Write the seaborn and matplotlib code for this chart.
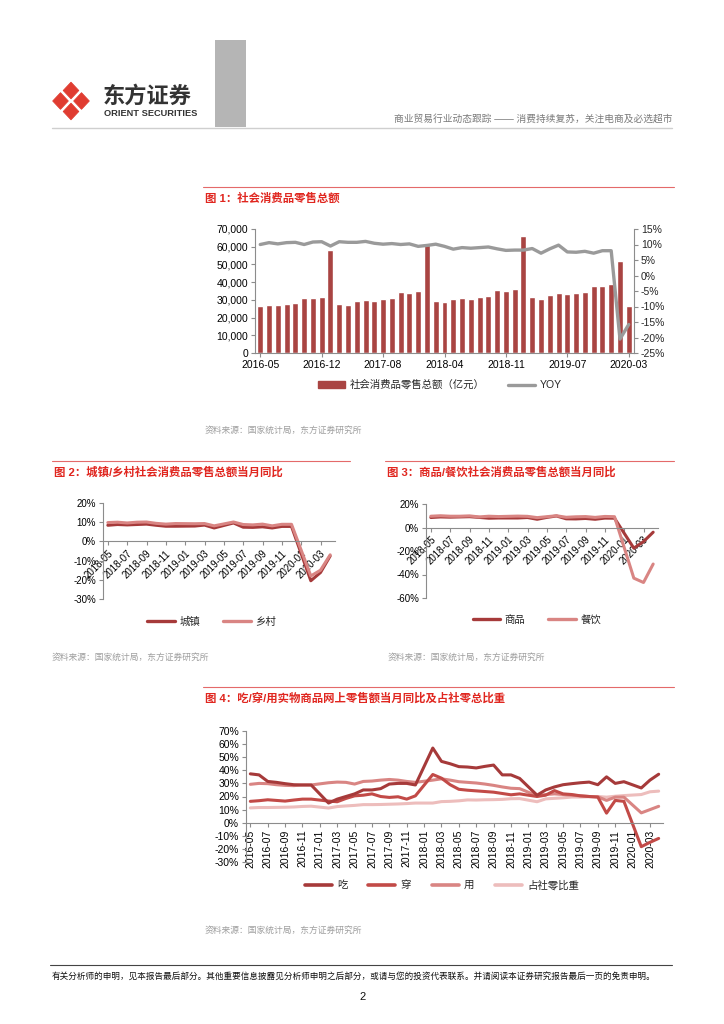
import numpy as np
import pandas as pd
import seaborn as sns
import matplotlib.pyplot as plt
from matplotlib.patches import Polygon, Rectangle, Patch
from matplotlib.lines import Line2D
from matplotlib.ticker import FuncFormatter

sns.set_theme(style="white")
plt.rcParams["font.family"] = ["Liberation Sans", "Noto Sans CJK SC", "DejaVu Sans"]
plt.rcParams["axes.unicode_minus"] = False

## DATA

# chart 1: monthly retail sales (Jan merged into Feb)
months1 = [p.strftime("%Y-%m") for p in pd.period_range("2016-05", "2020-03", freq="M") if p.month != 1]
sales = [26610, 26857, 26827, 27539, 28006, 31119, 30959, 31757,
         58062, 27864, 27278, 29459, 29808, 29610, 30330, 31000, 34240, 34108, 34734,
         61082, 29194, 28542, 30359, 30842, 30734, 31542, 32005, 35534, 35260, 35893,
         66064, 31726, 30586, 32956, 33878, 33073, 33896, 34495, 38104, 38094, 38777,
         52130, 26450]
yoy = [10.0, 10.6, 10.2, 10.6, 10.7, 10.0, 10.8, 10.9,
       9.5, 10.9, 10.7, 10.7, 11.0, 10.4, 10.1, 10.3, 10.0, 10.2, 9.4,
       9.7, 10.1, 9.4, 8.5, 9.0, 8.8, 9.0, 9.2, 8.6, 8.1, 8.2,
       8.2, 8.7, 7.2, 8.6, 9.8, 7.6, 7.5, 7.8, 7.2, 8.0, 8.0,
       -20.5, -15.8]

# chart 2 / 3: 2018-05 .. 2020-04, January not published
months2 = [p.strftime("%Y-%m") for p in pd.period_range("2018-05", "2020-04", freq="M")]
urban = [8.4, 8.8, 8.6, 8.8, 9.0, 8.4, 7.9, 7.9, np.nan, 8.0, 8.5, 7.0,
         8.3, 9.6, 7.4, 7.3, 7.6, 7.0, 7.8, 7.8, np.nan, -20.5, -16.2, -7.6]
rural = [9.8, 10.0, 9.6, 10.0, 10.1, 9.4, 9.0, 9.3, np.nan, 9.2, 9.3, 8.1,
         9.1, 10.1, 8.8, 8.6, 9.0, 8.1, 8.9, 8.9, np.nan, -18.0, -15.0, -7.0]
goods = [8.5, 9.0, 8.8, 9.0, 9.2, 8.6, 7.9, 8.1, np.nan, 8.1, 8.5, 7.0,
         8.6, 9.8, 7.4, 7.3, 7.7, 7.0, 8.0, 7.9, np.nan, -17.6, -12.0, -4.0]
catering = [9.6, 10.0, 9.6, 9.6, 9.9, 9.0, 9.6, 9.3, np.nan, 9.7, 9.5, 8.4,
            9.2, 10.0, 8.7, 9.1, 9.3, 8.6, 9.4, 9.2, np.nan, -43.1, -46.8, -31.1]

# chart 4: 2016-05 .. 2020-04
months4 = [p.strftime("%Y-%m") for p in pd.period_range("2016-05", "2020-04", freq="M")]
eat = [37.3, 36.5, 31.5, 30.8, 29.8, 29.0, 28.8, 28.8,
       np.nan, 15.0, 18.0, 20.0, 22.0, 25.0, 25.0, 26.0, 29.5, 30.0, 30.0, 28.8,
       np.nan, 57.0, 46.8, 45.0, 42.8, 42.5, 41.8, 43.0, 44.0, 36.5, 36.5, 33.8,
       np.nan, 21.0, 25.0, 27.3, 29.0, 29.8, 30.5, 31.0, 29.0, 35.0, 30.0, 31.3,
       np.nan, 26.5, 32.5, 37.0]
wear = [16.3, 16.8, 17.5, 17.0, 16.5, 17.3, 18.0, 18.0,
        np.nan, 16.5, 16.0, 18.5, 20.5, 21.0, 22.0, 20.0, 19.3, 19.8, 18.0, 20.5,
        np.nan, 36.8, 34.0, 29.0, 25.5, 24.8, 24.3, 23.8, 23.3, 22.3, 21.3, 22.0,
        np.nan, 20.0, 21.0, 24.5, 22.0, 21.5, 20.5, 20.0, 19.5, 7.3, 17.0, 16.3,
        np.nan, -18.3, -15.0, -12.0]
use = [29.3, 30.0, 29.8, 29.0, 28.5, 28.3, 28.8, 28.8,
       np.nan, 30.5, 31.0, 30.8, 29.5, 31.5, 31.8, 32.5, 33.0, 32.5, 31.5, 30.8,
       np.nan, 32.5, 33.5, 32.5, 31.3, 30.8, 30.3, 29.5, 28.5, 27.3, 26.3, 26.0,
       np.nan, 20.5, 21.5, 22.0, 21.5, 21.0, 20.5, 20.0, 19.8, 17.0, 19.5, 19.5,
       np.nan, 7.5, 10.0, 12.5]
share = [11.3, 11.6, 11.6, 11.7, 11.8, 12.0, 12.4, 12.6,
         np.nan, 11.2, 12.3, 12.8, 13.2, 13.8, 13.8, 13.9, 14.1, 14.3, 14.6, 15.0,
         np.nan, 15.0, 16.1, 16.3, 16.7, 17.4, 17.3, 17.5, 17.6, 17.8, 18.3, 18.4,
         np.nan, 16.0, 18.2, 18.6, 19.0, 19.6, 19.6, 19.8, 20.0, 19.5, 20.2, 20.7,
         np.nan, 21.5, 23.6, 24.1]

BAR = "#A94442"
GRAY = "#9A9A9A"
C_DARK = "#A63A3A"
C_MID = "#C24A47"
C_LIGHT = "#D98583"
C_PALE = "#EDBDBC"
RED = "#E0261F"
SPINE = "#8C8C8C"

W, H = 724, 1024
fig = plt.figure(figsize=(W / 100, H / 100), dpi=100)

bg = fig.add_axes([0, 0, 1, 1])
bg.set_xlim(0, W)
bg.set_ylim(H, 0)
bg.axis("off")


def box(x0, y0, x1, y1):
    return fig.add_axes([x0 / W, 1 - y1 / H, (x1 - x0) / W, (y1 - y0) / H])


def style_ax(ax, size=7.5):
    for s in ["top", "right"]:
        ax.spines[s].set_visible(False)
    for s in ["left", "bottom"]:
        ax.spines[s].set_color(SPINE)
        ax.spines[s].set_linewidth(0.8)
    ax.tick_params(axis="both", bottom=True, left=True, direction="out", length=3,
                   width=0.8, color=SPINE, labelsize=size, pad=2, labelcolor="black")
    ax.set_xlabel("")
    ax.set_ylabel("")
    ax.set_facecolor("none")


def legend(ax, handles, labels, x, y, size=7.5, spacing=2.2):
    ax.legend(handles, labels, loc="center", bbox_to_anchor=(x / W, 1 - y / H),
              bbox_transform=fig.transFigure, ncol=len(labels), frameon=False,
              fontsize=size, handlelength=2.6, handletextpad=0.5, columnspacing=spacing)


pct = FuncFormatter(lambda v, p: f"{v:.0f}%")

## PAGE HEADER

rx, ry = 7.8, 8.3
for cx, cy in [(71, 90.5), (71, 111.5), (60.5, 101), (81.5, 101)]:
    bg.add_patch(Polygon([(cx, cy - ry), (cx + rx, cy), (cx, cy + ry), (cx - rx, cy)],
                         closed=True, facecolor="#E03C31", edgecolor="#E03C31", lw=0.6,
                         joinstyle="round"))
bg.text(103, 97, "东方证券", fontsize=16, fontweight="bold", color="#333333", va="center")
bg.text(104, 114, "ORIENT SECURITIES", fontsize=6.7, fontweight="bold", color="#333333", va="center")
bg.add_patch(Rectangle((215, 40), 31, 87, color="#B5B5B5", lw=0))
bg.text(672, 119, "商业贸易行业动态跟踪 —— 消费持续复苏，关注电商及必选超市",
        fontsize=7, color="#7A7A7A", ha="right", va="center")
bg.plot([52, 672], [128, 128], color="#CFCFCF", lw=1)


def title(x0, x1, y, s):
    bg.plot([x0, x1], [y - 11, y - 11], color="#E46A6A", lw=0.8)
    bg.text(x0 + 2, y, s, fontsize=8.2, fontweight="bold", color=RED, va="center")


def source(x, y):
    bg.text(x, y, "资料来源：国家统计局，东方证券研究所", fontsize=6.3, color="#9E9E9E", va="center")


## CHART 1

title(203, 674, 198, "图 1：社会消费品零售总额")
ax1 = box(255, 229, 634, 353)
df1 = pd.DataFrame({"month": months1, "pos": np.arange(len(months1)), "sales": sales, "yoy": yoy})
sns.barplot(data=df1, x="pos", y="sales", color=BAR, saturation=1, width=0.68, ax=ax1,
            native_scale=True)
style_ax(ax1)
ax1.set_xlim(-0.6, len(months1) - 0.4)
ax1.set_ylim(0, 70000)
ax1.set_yticks(range(0, 70001, 10000))
ax1.yaxis.set_major_formatter(FuncFormatter(lambda v, p: f"{v:,.0f}"))
ax1.set_xticks(df1["pos"][::7])
ax1.set_xticklabels(df1["month"][::7])

ax1b = ax1.twinx()
sns.lineplot(data=df1, x="pos", y="yoy", color=GRAY, lw=2.4, ax=ax1b)
for s in ["top", "left", "bottom"]:
    ax1b.spines[s].set_visible(False)
ax1b.spines["right"].set_color(SPINE)
ax1b.spines["right"].set_linewidth(0.8)
ax1b.tick_params(axis="y", right=True, left=False, direction="out", length=3, width=0.8,
                 color=SPINE, labelsize=7.5, pad=2)
ax1b.set_ylim(-25, 15)
ax1b.set_yticks(range(-25, 16, 5))
ax1b.yaxis.set_major_formatter(pct)
ax1b.set_ylabel("")
legend(ax1b, [Patch(color=BAR), Line2D([], [], color=GRAY, lw=2.4)],
       ["社会消费品零售总额（亿元）", "YOY"], 440, 385)
source(205, 430)

## CHART 2 / 3


def small_chart(x0, x1, y0, y1, series, names, colors, ylim, step):
    ax = box(x0, y0, x1, y1)
    pos = np.arange(len(months2))
    df = pd.concat([pd.DataFrame({"pos": pos, "value": v, "series": n})
                    for v, n in zip(series, names)], ignore_index=True)
    sns.lineplot(data=df, x="pos", y="value", hue="series", hue_order=names,
                 palette=colors, lw=2.2, legend=False, ax=ax)
    style_ax(ax, 7)
    ax.spines["bottom"].set_position(("data", 0))
    ax.set_xlim(-0.5, len(months2) - 0.5)
    ax.set_ylim(*ylim)
    ax.set_yticks(range(ylim[0], ylim[1] + 1, step))
    ax.yaxis.set_major_formatter(pct)
    ax.set_xticks(pos[::2])
    ax.set_xticklabels(months2[::2], rotation=45, ha="right", rotation_mode="anchor")
    return ax


title(52, 350, 472, "图 2：城镇/乡村社会消费品零售总额当月同比")
ax2 = small_chart(103, 335, 503, 599, [urban, rural], ["城镇", "乡村"], [C_DARK, C_LIGHT], (-30, 20), 10)
legend(ax2, [Line2D([], [], color=C_DARK, lw=2.4), Line2D([], [], color=C_LIGHT, lw=2.4)],
       ["城镇", "乡村"], 212, 622)
source(52, 657)

title(385, 674, 472, "图 3：商品/餐饮社会消费品零售总额当月同比")
ax3 = small_chart(426, 658, 504, 598, [goods, catering], ["商品", "餐饮"], [C_DARK, C_LIGHT], (-60, 20), 20)
legend(ax3, [Line2D([], [], color=C_DARK, lw=2.4), Line2D([], [], color=C_LIGHT, lw=2.4)],
       ["商品", "餐饮"], 537, 620)
source(388, 657)

## CHART 4

title(203, 674, 698, "图 4：吃/穿/用实物商品网上零售额当月同比及占社零总比重")
ax4 = box(246, 731, 663, 862)
names4 = ["吃", "穿", "用", "占社零比重"]
colors4 = [C_DARK, C_MID, C_LIGHT, C_PALE]
pos4 = np.arange(len(months4))
df4 = pd.concat([pd.DataFrame({"pos": pos4, "value": v, "series": n})
                 for v, n in zip([eat, wear, use, share], names4)], ignore_index=True)
sns.lineplot(data=df4, x="pos", y="value", hue="series", hue_order=names4[::-1],
             palette=colors4[::-1], lw=2.2, legend=False, ax=ax4)
style_ax(ax4, 7.5)
ax4.spines["bottom"].set_position(("data", 0))
ax4.set_xlim(-0.5, len(months4) - 0.5)
ax4.set_ylim(-30, 70)
ax4.set_yticks(range(-30, 71, 10))
ax4.yaxis.set_major_formatter(pct)
ax4.set_xticks(pos4[::2])
ax4.set_xticklabels(months4[::2], rotation=90, ha="center", va="top")
legend(ax4, [Line2D([], [], color=c, lw=2.6) for c in colors4], names4, 442, 885, spacing=2.0)
source(205, 930)

## FOOTER

bg.plot([50, 672], [965, 965], color="#444444", lw=0.8)
bg.text(52, 976, "有关分析师的申明，见本报告最后部分。其他重要信息披露见分析师申明之后部分，或请与您的投资代表联系。并请阅读本证券研究报告最后一页的免责申明。",
        fontsize=6.2, color="#111111", va="center")
bg.text(363, 997, "2", fontsize=8, color="#111111", ha="center", va="center")

fig.savefig("out.png", dpi=100)
